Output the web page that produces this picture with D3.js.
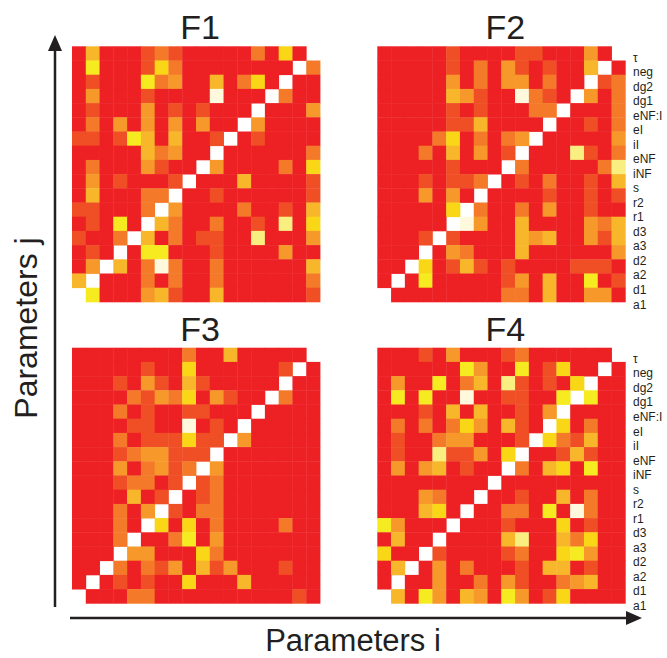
<!DOCTYPE html>
<html>
<head>
<script src="https://d3js.org/d3.v7.min.js"></script>
<style>
  body { margin: 0; background: #fff; }
  text { font-family: "Liberation Sans", Arial, Helvetica, sans-serif; fill: #231F20; }
</style>
</head>
<body>
<svg width="667" height="658"></svg>
<script>
// parameter names, top row to bottom row (columns run the other way)
var params = ["τ", "neg", "dg2", "dg1", "eNF:I", "eI", "iI", "eNF", "iNF", "s",
              "r2", "r1", "d3", "a3", "d2", "a2", "d1", "a1"];
var colParams = params.slice().reverse();

var titles = ["F1", "F2", "F3", "F4"];

// colour level per cell (0 = red ... 8 = cream, 9 = diagonal / empty)
var f1 = [
  "040001210000020509",
  "060001520000000092",
  "010006230040250900",
  "030001000080009200",
  "010003010100090003",
  "020303030300930000",
  "110164040019010000",
  "000004230090000002",
  "020003100930000205",
  "030100019000400001",
  "040002290010000001",
  "110002930000200104",
  "010609420020010705",
  "100294020110070003",
  "010906600010000300",
  "039402820020000004",
  "490002020020000002",
  "960003410040000001"
];
var f2 = [
  "000001000011000309",
  "000001020310100490",
  "000003020330200912",
  "000004310082109302",
  "000001010002290002",
  "000001140000900102",
  "000025020239000003",
  "000204030190007102",
  "000001000920000027",
  "000101129010200104",
  "000303090000100101",
  "000005920020300100",
  "000009830040000324",
  "000191000043400314",
  "000903200040000003",
  "009501410100001110",
  "090600000130400601",
  "900000000220400330"
];
var f3 = [
  "000000002004000009",
  "000001005000000190",
  "000103104100000900",
  "000021325031009200",
  "000201001100090000",
  "000011008010900000",
  "000201115119300000",
  "000123311190000000",
  "000302312930000000",
  "000122019120000000",
  "000040190120000000",
  "000203910220000000",
  "000209505020000200",
  "000290026030000000",
  "000933000520000000",
  "009202130413000100",
  "090101005000400000",
  "900022000000000010"
];
var f4 = [
  "000103000120000009",
  "000000630060150090",
  "030060240710105900",
  "060600800110069600",
  "000104040010390000",
  "020202530410950200",
  "010023300019521400",
  "010071130590014100",
  "030340100920450600",
  "000000009000000000",
  "000320090010040200",
  "000450900220608200",
  "630009000100050100",
  "040090000470042500",
  "500910000120056300",
  "049030200010440100",
  "090030020310023400",
  "940630430630150000"
];
var panelData = [f1, f2, f3, f4];

var color = d3.scaleOrdinal()
  .domain(d3.range(10))
  .range(["#ED2024", "#F04E25", "#F47A2A", "#F6992A", "#F8B72B",
          "#F9D616", "#F6EB20", "#F8EF80", "#FEF9DC", "#FFFFFF"]);

var svg = d3.select("svg");

var panels = [
  {x: 72, y: 46.3},
  {x: 377.3, y: 46.3},
  {x: 72, y: 347.7},
  {x: 377.3, y: 347.7}
];
var gridW = 248, gridH = 255.6;

panels.forEach(function(p, k) {
  var x = d3.scaleBand().domain(colParams).range([p.x, p.x + gridW]);
  var y = d3.scaleBand().domain(params).range([p.y, p.y + gridH]);

  var cells = [];
  panelData[k].forEach(function(row, r) {
    row.split("").forEach(function(v, c) {
      cells.push({row: params[r], col: colParams[c], v: +v});
    });
  });

  var g = svg.append("g");
  g.selectAll("rect")
    .data(cells.filter(function(d) { return d.v < 9; }))
    .enter().append("rect")
      .attr("x", function(d) { return x(d.col); })
      .attr("y", function(d) { return y(d.row); })
      .attr("width", x.bandwidth() + 0.4)
      .attr("height", y.bandwidth() + 0.4)
      .attr("fill", function(d) { return color(d.v); });

  g.append("text")
    .attr("x", p.x + gridW / 2 + 4)
    .attr("y", p.y - 7)
    .attr("text-anchor", "middle")
    .style("font-size", "34px")
    .text(titles[k]);

  // row names on the right-hand panels
  if (k % 2 == 1) {
    var ly = d3.scalePoint().domain(params).range([p.y + 11, p.y + 258]);
    g.selectAll(".lab")
      .data(params)
      .enter().append("text")
        .attr("x", 633)
        .attr("y", function(d) { return ly(d); })
        .attr("dy", "0.35em")
        .style("font-size", "12px")
        .text(function(d) { return d; });
  }
});

// axis arrows
svg.append("line")
  .attr("x1", 55).attr("y1", 607).attr("x2", 55).attr("y2", 48)
  .attr("stroke", "#231F20").attr("stroke-width", 2.5);
svg.append("path")
  .attr("d", "M55,35 L48,51 L62,51 Z")
  .attr("fill", "#231F20");
svg.append("line")
  .attr("x1", 70).attr("y1", 618).attr("x2", 628).attr("y2", 618)
  .attr("stroke", "#231F20").attr("stroke-width", 2.5);
svg.append("path")
  .attr("d", "M642,618 L626,611 L626,625 Z")
  .attr("fill", "#231F20");

svg.append("text")
  .attr("x", 353).attr("y", 651)
  .attr("text-anchor", "middle")
  .style("font-size", "31px")
  .text("Parameters i");

svg.append("text")
  .attr("transform", "translate(37,328) rotate(-90)")
  .attr("text-anchor", "middle")
  .style("font-size", "32px")
  .text("Parameters j");
</script>
</body>
</html>
